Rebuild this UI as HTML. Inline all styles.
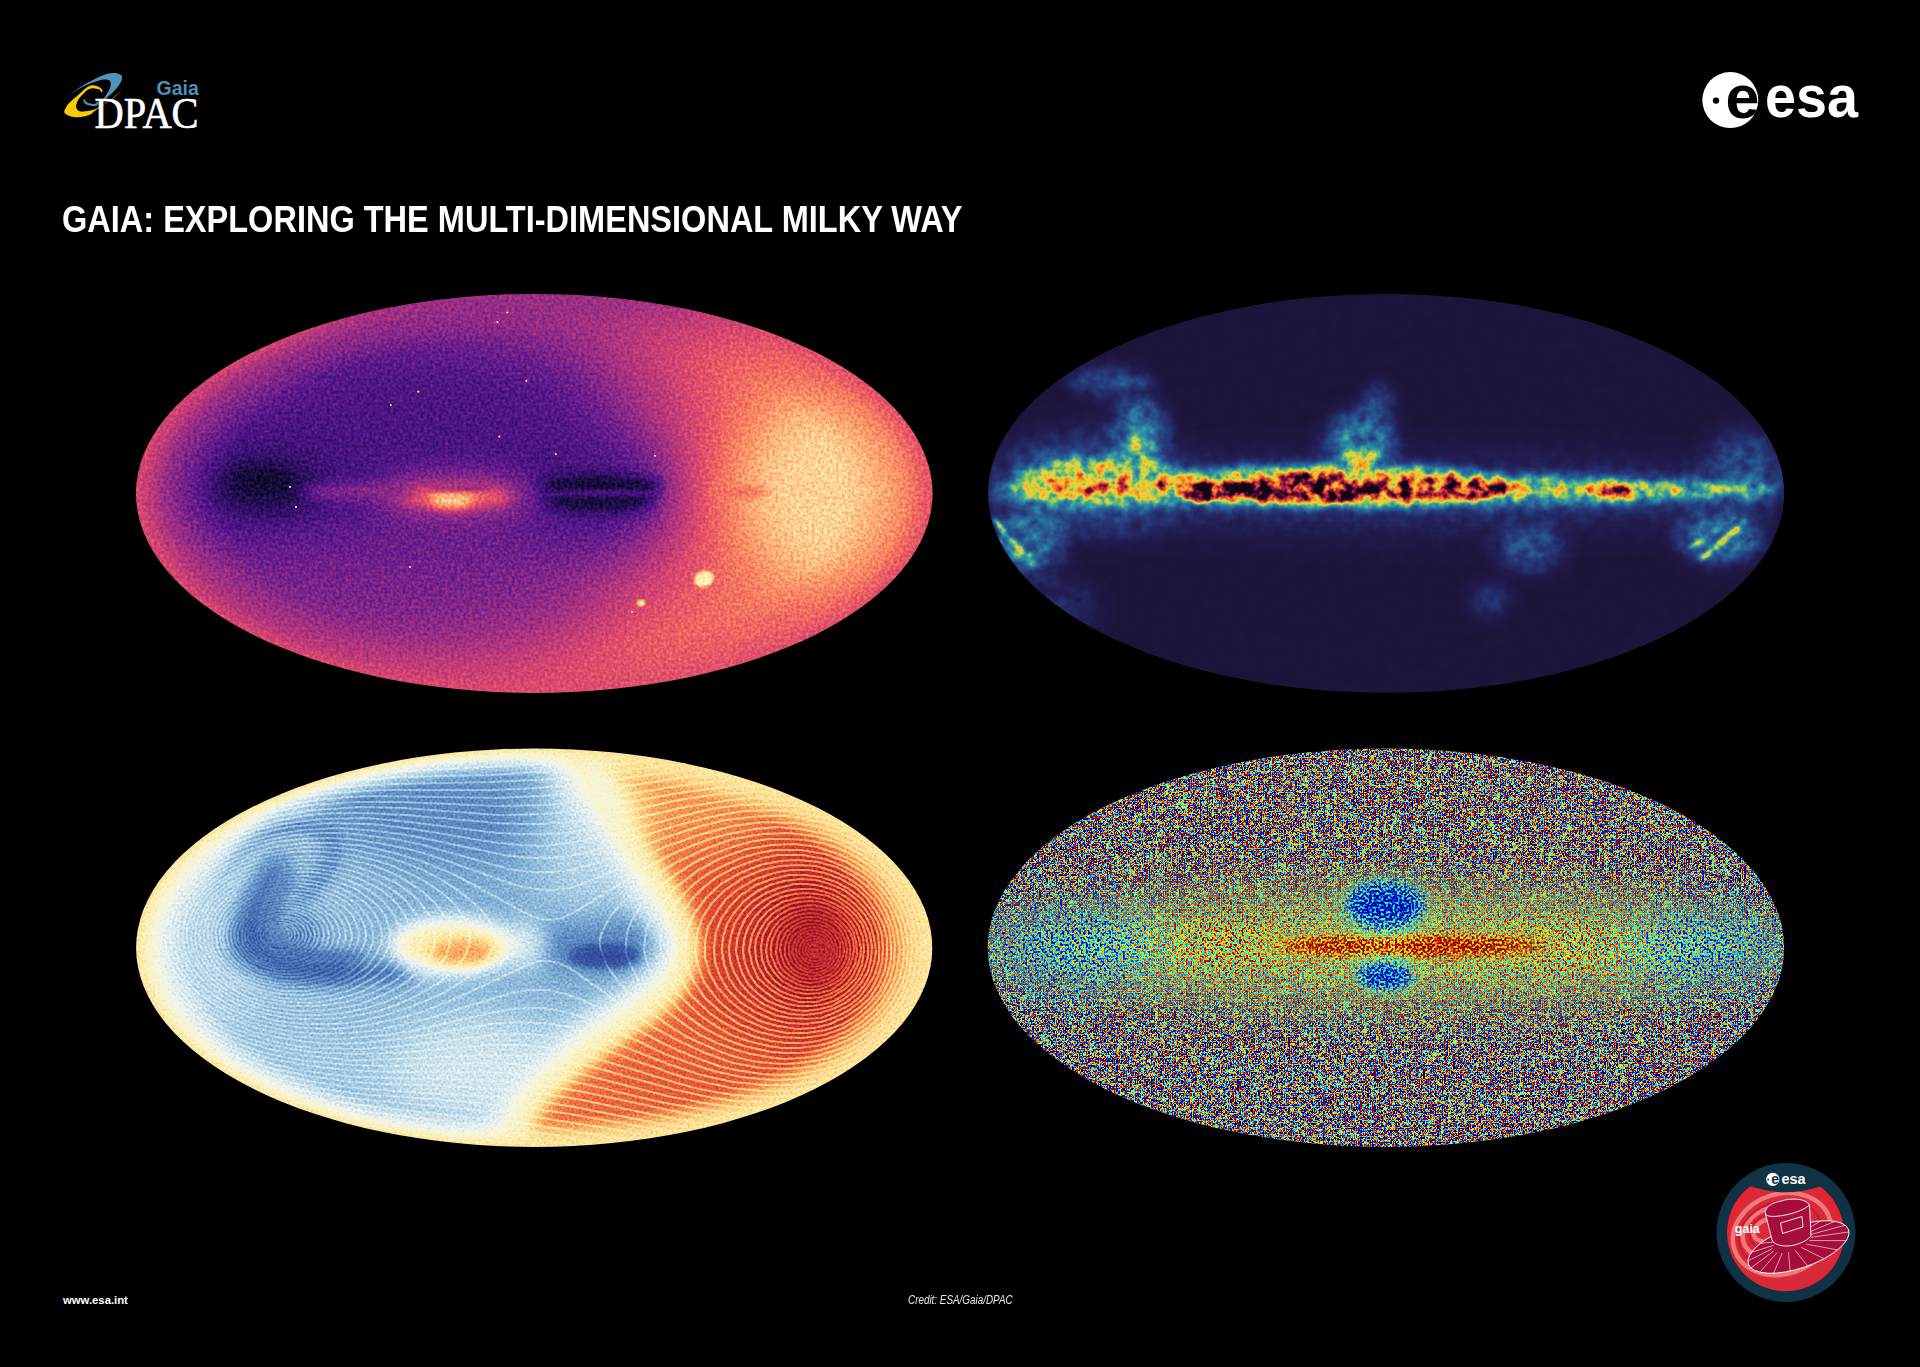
<!DOCTYPE html>
<html><head><meta charset="utf-8"><title>Gaia: Exploring the multi-dimensional Milky Way</title>
<style>
html,body{margin:0;padding:0;background:#000;width:1920px;height:1367px;overflow:hidden}
body{position:relative;font-family:"Liberation Sans",sans-serif}
.maps{position:absolute;left:0;top:0}
.logos{position:absolute;left:0;top:0}
.title{position:absolute;left:62px;top:198.7px;color:#fff;font:bold 36.5px "Liberation Sans",sans-serif;white-space:nowrap;transform-origin:0 0;transform:scaleX(0.891);letter-spacing:0}
.www{position:absolute;left:63px;top:1293.5px;color:#fff;font:bold 11.3px "Liberation Sans",sans-serif;white-space:nowrap}
.credit{position:absolute;left:908px;top:1293px;color:#e6e6e6;font:italic 12.5px "Liberation Sans",sans-serif;white-space:nowrap;transform-origin:0 0;transform:scaleX(0.79)}
</style></head><body>
<svg class="maps" width="1920" height="1367" viewBox="0 0 1920 1367"><defs><radialGradient id="rimTL" cx="0.5" cy="0.5" r="0.5"><stop offset="0" stop-color="#999999" stop-opacity="0"/><stop offset="0.78" stop-color="#8c8c8c" stop-opacity="0"/><stop offset="0.93" stop-color="#8f8f8f" stop-opacity="0.4"/><stop offset="1" stop-color="#999999" stop-opacity="0.92"/></radialGradient><radialGradient id="rimBL" cx="0.5" cy="0.5" r="0.5"><stop offset="0" stop-color="#8c8c8c" stop-opacity="0"/><stop offset="0.86" stop-color="#808080" stop-opacity="0"/><stop offset="0.95" stop-color="#8a8a8a" stop-opacity="0.7"/><stop offset="1" stop-color="#949494" stop-opacity="1"/></radialGradient><mask id="mBRm" maskUnits="userSpaceOnUse" x="980" y="740" width="820" height="420"><ellipse cx="1386" cy="947" rx="420" ry="52" fill="#fff" filter="url(#b25)"/></mask><mask id="mBRc" maskUnits="userSpaceOnUse" x="980" y="740" width="820" height="420"><ellipse cx="1405" cy="946" rx="150" ry="14" fill="#fff" filter="url(#b8)"/><ellipse cx="1385" cy="905" rx="44" ry="26" fill="#fff" filter="url(#b10)"/><ellipse cx="1385" cy="977" rx="32" ry="15" fill="#fff" filter="url(#b8)"/></mask><filter id="fTL" x="0" y="0" width="1" height="1" color-interpolation-filters="sRGB"><feTurbulence type="fractalNoise" baseFrequency="0.33" numOctaves="2" seed="3" result="n0"/><feColorMatrix in="n0" type="matrix" values="1 0 0 0 0  1 0 0 0 0  1 0 0 0 0  0 0 0 0 1" result="n"/><feComposite in="SourceGraphic" in2="n" operator="arithmetic" k1="0" k2="1" k3="0.3" k4="-0.15" result="f"/><feComponentTransfer in="f"><feFuncR type="table" tableValues="0.000 0.012 0.025 0.037 0.050 0.062 0.075 0.093 0.114 0.136 0.157 0.178 0.199 0.221 0.243 0.265 0.287 0.310 0.333 0.357 0.381 0.407 0.441 0.475 0.508 0.542 0.571 0.599 0.627 0.655 0.683 0.709 0.734 0.759 0.784 0.807 0.829 0.850 0.871 0.893 0.906 0.918 0.931 0.943 0.956 0.961 0.966 0.970 0.975 0.980 0.982 0.985 0.987 0.989 0.992 0.992 0.992 0.992 0.992 0.992 0.991 0.990 0.989 0.988"/><feFuncG type="table" tableValues="0.000 0.008 0.016 0.024 0.032 0.040 0.049 0.052 0.054 0.056 0.058 0.060 0.062 0.065 0.070 0.076 0.081 0.086 0.093 0.101 0.108 0.116 0.128 0.139 0.151 0.162 0.172 0.180 0.189 0.197 0.206 0.215 0.225 0.235 0.245 0.256 0.270 0.284 0.299 0.313 0.337 0.362 0.387 0.412 0.437 0.463 0.489 0.516 0.542 0.569 0.598 0.628 0.657 0.687 0.716 0.745 0.773 0.802 0.830 0.858 0.885 0.911 0.938 0.965"/><feFuncB type="table" tableValues="0.016 0.048 0.080 0.113 0.145 0.178 0.210 0.244 0.279 0.314 0.349 0.383 0.418 0.447 0.467 0.486 0.506 0.525 0.534 0.542 0.550 0.556 0.550 0.545 0.540 0.534 0.527 0.519 0.512 0.504 0.496 0.487 0.478 0.470 0.461 0.452 0.443 0.434 0.425 0.416 0.407 0.398 0.388 0.379 0.370 0.374 0.380 0.387 0.393 0.399 0.416 0.435 0.453 0.472 0.491 0.513 0.536 0.559 0.582 0.609 0.641 0.673 0.705 0.737"/></feComponentTransfer></filter><filter id="fTR" x="0" y="0" width="1" height="1" color-interpolation-filters="sRGB"><feTurbulence type="fractalNoise" baseFrequency="0.085" numOctaves="3" seed="5" result="n0"/><feColorMatrix in="n0" type="matrix" values="1 0 0 0 0  1 0 0 0 0  1 0 0 0 0  0 0 0 0 1" result="n"/><feComposite in="SourceGraphic" in2="n" operator="arithmetic" k1="1.0" k2="0.5" k3="0" k4="0" result="f"/><feComponentTransfer in="f"><feFuncR type="table" tableValues="0.106 0.110 0.113 0.117 0.120 0.124 0.128 0.131 0.134 0.136 0.138 0.140 0.142 0.144 0.146 0.148 0.149 0.151 0.153 0.155 0.157 0.159 0.161 0.163 0.165 0.168 0.171 0.174 0.177 0.180 0.184 0.230 0.290 0.350 0.410 0.469 0.547 0.631 0.715 0.799 0.883 0.918 0.929 0.941 0.953 0.964 0.961 0.949 0.938 0.926 0.914 0.880 0.830 0.780 0.731 0.673 0.584 0.495 0.406 0.327 0.265 0.203 0.141 0.078"/><feFuncG type="table" tableValues="0.071 0.076 0.081 0.086 0.091 0.097 0.102 0.107 0.116 0.130 0.145 0.159 0.174 0.188 0.202 0.217 0.233 0.256 0.279 0.302 0.325 0.348 0.371 0.394 0.417 0.447 0.477 0.507 0.537 0.567 0.597 0.628 0.659 0.690 0.721 0.752 0.773 0.790 0.807 0.824 0.842 0.822 0.784 0.747 0.710 0.672 0.620 0.559 0.499 0.438 0.377 0.322 0.270 0.219 0.167 0.122 0.101 0.080 0.059 0.044 0.037 0.030 0.023 0.016"/><feFuncB type="table" tableValues="0.196 0.212 0.227 0.243 0.258 0.274 0.289 0.305 0.323 0.343 0.363 0.383 0.403 0.423 0.443 0.463 0.483 0.499 0.515 0.531 0.548 0.564 0.580 0.596 0.612 0.618 0.625 0.631 0.637 0.643 0.649 0.613 0.563 0.514 0.464 0.414 0.375 0.341 0.307 0.273 0.238 0.219 0.207 0.194 0.182 0.169 0.164 0.162 0.161 0.159 0.157 0.170 0.191 0.212 0.234 0.250 0.244 0.237 0.231 0.214 0.180 0.146 0.112 0.078"/></feComponentTransfer></filter><filter id="fBL" x="0" y="0" width="1" height="1" color-interpolation-filters="sRGB"><feTurbulence type="fractalNoise" baseFrequency="0.43" numOctaves="1" seed="7" result="n0"/><feColorMatrix in="n0" type="matrix" values="1 0 0 0 0  1 0 0 0 0  1 0 0 0 0  0 0 0 0 1" result="n"/><feComposite in="SourceGraphic" in2="n" operator="arithmetic" k1="0" k2="1" k3="0.22" k4="-0.11" result="f"/><feComponentTransfer in="f"><feFuncR type="table" tableValues="0.165 0.175 0.185 0.195 0.205 0.215 0.224 0.241 0.261 0.281 0.301 0.321 0.341 0.365 0.395 0.425 0.455 0.484 0.514 0.545 0.584 0.622 0.661 0.699 0.738 0.777 0.814 0.852 0.889 0.926 0.953 0.962 0.971 0.981 0.985 0.987 0.989 0.991 0.992 0.990 0.989 0.987 0.986 0.983 0.976 0.969 0.962 0.955 0.947 0.932 0.917 0.902 0.886 0.871 0.850 0.822 0.794 0.766 0.738 0.705 0.664 0.623 0.582 0.541"/><feFuncG type="table" tableValues="0.227 0.247 0.267 0.287 0.307 0.327 0.347 0.373 0.402 0.430 0.459 0.488 0.516 0.545 0.575 0.605 0.635 0.665 0.695 0.724 0.750 0.776 0.803 0.829 0.855 0.881 0.901 0.918 0.936 0.954 0.964 0.962 0.960 0.958 0.946 0.928 0.910 0.893 0.871 0.834 0.796 0.759 0.722 0.683 0.641 0.599 0.557 0.515 0.474 0.438 0.402 0.366 0.330 0.294 0.263 0.236 0.210 0.183 0.157 0.134 0.116 0.098 0.081 0.063"/><feFuncB type="table" tableValues="0.549 0.566 0.584 0.601 0.619 0.636 0.654 0.669 0.684 0.699 0.714 0.729 0.744 0.759 0.776 0.792 0.808 0.824 0.840 0.856 0.869 0.881 0.893 0.906 0.918 0.931 0.936 0.940 0.943 0.947 0.929 0.877 0.825 0.773 0.727 0.684 0.642 0.599 0.558 0.527 0.496 0.465 0.434 0.404 0.379 0.354 0.329 0.304 0.281 0.267 0.253 0.239 0.225 0.212 0.203 0.199 0.196 0.193 0.190 0.182 0.168 0.154 0.140 0.125"/></feComponentTransfer></filter><filter id="fBR" x="0" y="0" width="1" height="1" color-interpolation-filters="sRGB"><feTurbulence type="fractalNoise" baseFrequency="0.43" numOctaves="1" seed="9" result="n0"/><feColorMatrix in="n0" type="matrix" values="1 0 0 0 0  1 0 0 0 0  1 0 0 0 0  0 0 0 0 1" result="n"/><feComponentTransfer in="n" result="n"><feFuncR type="table" tableValues="0.000 0.000 0.000 0.000 0.000 0.000 0.000 0.001 0.004 0.016 0.040 0.076 0.124 0.186 0.268 0.378 0.490 0.616 0.729 0.814 0.877 0.927 0.964 0.987 0.997 0.999 1.000 1.000 1.000 1.000 1.000 1.000 1.000"/><feFuncG type="table" tableValues="0.000 0.000 0.000 0.000 0.000 0.000 0.000 0.001 0.004 0.016 0.040 0.076 0.124 0.186 0.268 0.378 0.490 0.616 0.729 0.814 0.877 0.927 0.964 0.987 0.997 0.999 1.000 1.000 1.000 1.000 1.000 1.000 1.000"/><feFuncB type="table" tableValues="0.000 0.000 0.000 0.000 0.000 0.000 0.000 0.001 0.004 0.016 0.040 0.076 0.124 0.186 0.268 0.378 0.490 0.616 0.729 0.814 0.877 0.927 0.964 0.987 0.997 0.999 1.000 1.000 1.000 1.000 1.000 1.000 1.000"/></feComponentTransfer><feComposite in="SourceGraphic" in2="n" operator="arithmetic" k1="0" k2="1" k3="1.25" k4="-0.625" result="f"/><feComponentTransfer in="f"><feFuncR type="table" tableValues="0.000 0.000 0.000 0.000 0.000 0.000 0.000 0.000 0.000 0.000 0.000 0.000 0.000 0.000 0.000 0.000 0.000 0.000 0.000 0.000 0.000 0.000 0.000 0.047 0.098 0.149 0.199 0.250 0.300 0.351 0.402 0.452 0.515 0.566 0.617 0.667 0.718 0.769 0.819 0.870 0.920 0.971 1.000 1.000 1.000 1.000 1.000 1.000 1.000 1.000 1.000 1.000 1.000 1.000 1.000 1.000 0.999 0.928 0.857 0.785 0.714 0.643 0.571 0.500"/><feFuncG type="table" tableValues="0.000 0.000 0.000 0.000 0.000 0.000 0.000 0.000 0.002 0.065 0.127 0.190 0.253 0.316 0.378 0.441 0.520 0.582 0.645 0.708 0.771 0.833 0.896 0.959 1.000 1.000 1.000 1.000 1.000 1.000 1.000 1.000 1.000 1.000 1.000 1.000 1.000 1.000 1.000 1.000 1.000 0.959 0.901 0.843 0.785 0.727 0.669 0.611 0.538 0.480 0.422 0.364 0.306 0.248 0.190 0.131 0.073 0.015 0.000 0.000 0.000 0.000 0.000 0.000"/><feFuncB type="table" tableValues="0.500 0.571 0.643 0.714 0.785 0.857 0.928 0.999 1.000 1.000 1.000 1.000 1.000 1.000 1.000 1.000 1.000 1.000 1.000 1.000 1.000 1.000 0.971 0.920 0.870 0.819 0.769 0.718 0.667 0.617 0.566 0.515 0.452 0.402 0.351 0.300 0.250 0.199 0.149 0.098 0.047 0.000 0.000 0.000 0.000 0.000 0.000 0.000 0.000 0.000 0.000 0.000 0.000 0.000 0.000 0.000 0.000 0.000 0.000 0.000 0.000 0.000 0.000 0.000"/></feComponentTransfer></filter><filter id="fBRm" x="0" y="0" width="1" height="1" color-interpolation-filters="sRGB"><feTurbulence type="fractalNoise" baseFrequency="0.43" numOctaves="1" seed="10" result="n0"/><feColorMatrix in="n0" type="matrix" values="1 0 0 0 0  1 0 0 0 0  1 0 0 0 0  0 0 0 0 1" result="n"/><feComponentTransfer in="n" result="n"><feFuncR type="table" tableValues="0.000 0.000 0.000 0.000 0.000 0.000 0.000 0.001 0.004 0.016 0.040 0.076 0.124 0.186 0.268 0.378 0.490 0.616 0.729 0.814 0.877 0.927 0.964 0.987 0.997 0.999 1.000 1.000 1.000 1.000 1.000 1.000 1.000"/><feFuncG type="table" tableValues="0.000 0.000 0.000 0.000 0.000 0.000 0.000 0.001 0.004 0.016 0.040 0.076 0.124 0.186 0.268 0.378 0.490 0.616 0.729 0.814 0.877 0.927 0.964 0.987 0.997 0.999 1.000 1.000 1.000 1.000 1.000 1.000 1.000"/><feFuncB type="table" tableValues="0.000 0.000 0.000 0.000 0.000 0.000 0.000 0.001 0.004 0.016 0.040 0.076 0.124 0.186 0.268 0.378 0.490 0.616 0.729 0.814 0.877 0.927 0.964 0.987 0.997 0.999 1.000 1.000 1.000 1.000 1.000 1.000 1.000"/></feComponentTransfer><feComposite in="SourceGraphic" in2="n" operator="arithmetic" k1="0" k2="1" k3="0.75" k4="-0.375" result="f"/><feComponentTransfer in="f"><feFuncR type="table" tableValues="0.000 0.000 0.000 0.000 0.000 0.000 0.000 0.000 0.000 0.000 0.000 0.000 0.000 0.000 0.000 0.000 0.000 0.000 0.000 0.000 0.000 0.000 0.000 0.047 0.098 0.149 0.199 0.250 0.300 0.351 0.402 0.452 0.515 0.566 0.617 0.667 0.718 0.769 0.819 0.870 0.920 0.971 1.000 1.000 1.000 1.000 1.000 1.000 1.000 1.000 1.000 1.000 1.000 1.000 1.000 1.000 0.999 0.928 0.857 0.785 0.714 0.643 0.571 0.500"/><feFuncG type="table" tableValues="0.000 0.000 0.000 0.000 0.000 0.000 0.000 0.000 0.002 0.065 0.127 0.190 0.253 0.316 0.378 0.441 0.520 0.582 0.645 0.708 0.771 0.833 0.896 0.959 1.000 1.000 1.000 1.000 1.000 1.000 1.000 1.000 1.000 1.000 1.000 1.000 1.000 1.000 1.000 1.000 1.000 0.959 0.901 0.843 0.785 0.727 0.669 0.611 0.538 0.480 0.422 0.364 0.306 0.248 0.190 0.131 0.073 0.015 0.000 0.000 0.000 0.000 0.000 0.000"/><feFuncB type="table" tableValues="0.500 0.571 0.643 0.714 0.785 0.857 0.928 0.999 1.000 1.000 1.000 1.000 1.000 1.000 1.000 1.000 1.000 1.000 1.000 1.000 1.000 1.000 0.971 0.920 0.870 0.819 0.769 0.718 0.667 0.617 0.566 0.515 0.452 0.402 0.351 0.300 0.250 0.199 0.149 0.098 0.047 0.000 0.000 0.000 0.000 0.000 0.000 0.000 0.000 0.000 0.000 0.000 0.000 0.000 0.000 0.000 0.000 0.000 0.000 0.000 0.000 0.000 0.000 0.000"/></feComponentTransfer></filter><filter id="fBRc" x="0" y="0" width="1" height="1" color-interpolation-filters="sRGB"><feTurbulence type="fractalNoise" baseFrequency="0.43" numOctaves="1" seed="11" result="n0"/><feColorMatrix in="n0" type="matrix" values="1 0 0 0 0  1 0 0 0 0  1 0 0 0 0  0 0 0 0 1" result="n"/><feComponentTransfer in="n" result="n"><feFuncR type="table" tableValues="0.000 0.000 0.000 0.000 0.000 0.000 0.000 0.001 0.004 0.016 0.040 0.076 0.124 0.186 0.268 0.378 0.490 0.616 0.729 0.814 0.877 0.927 0.964 0.987 0.997 0.999 1.000 1.000 1.000 1.000 1.000 1.000 1.000"/><feFuncG type="table" tableValues="0.000 0.000 0.000 0.000 0.000 0.000 0.000 0.001 0.004 0.016 0.040 0.076 0.124 0.186 0.268 0.378 0.490 0.616 0.729 0.814 0.877 0.927 0.964 0.987 0.997 0.999 1.000 1.000 1.000 1.000 1.000 1.000 1.000"/><feFuncB type="table" tableValues="0.000 0.000 0.000 0.000 0.000 0.000 0.000 0.001 0.004 0.016 0.040 0.076 0.124 0.186 0.268 0.378 0.490 0.616 0.729 0.814 0.877 0.927 0.964 0.987 0.997 0.999 1.000 1.000 1.000 1.000 1.000 1.000 1.000"/></feComponentTransfer><feComposite in="SourceGraphic" in2="n" operator="arithmetic" k1="0" k2="1" k3="0.6" k4="-0.3" result="f"/><feComponentTransfer in="f"><feFuncR type="table" tableValues="0.000 0.000 0.000 0.000 0.000 0.000 0.000 0.000 0.000 0.000 0.000 0.000 0.000 0.000 0.000 0.000 0.000 0.000 0.000 0.000 0.000 0.000 0.000 0.047 0.098 0.149 0.199 0.250 0.300 0.351 0.402 0.452 0.515 0.566 0.617 0.667 0.718 0.769 0.819 0.870 0.920 0.971 1.000 1.000 1.000 1.000 1.000 1.000 1.000 1.000 1.000 1.000 1.000 1.000 1.000 1.000 0.999 0.928 0.857 0.785 0.714 0.643 0.571 0.500"/><feFuncG type="table" tableValues="0.000 0.000 0.000 0.000 0.000 0.000 0.000 0.000 0.002 0.065 0.127 0.190 0.253 0.316 0.378 0.441 0.520 0.582 0.645 0.708 0.771 0.833 0.896 0.959 1.000 1.000 1.000 1.000 1.000 1.000 1.000 1.000 1.000 1.000 1.000 1.000 1.000 1.000 1.000 1.000 1.000 0.959 0.901 0.843 0.785 0.727 0.669 0.611 0.538 0.480 0.422 0.364 0.306 0.248 0.190 0.131 0.073 0.015 0.000 0.000 0.000 0.000 0.000 0.000"/><feFuncB type="table" tableValues="0.500 0.571 0.643 0.714 0.785 0.857 0.928 0.999 1.000 1.000 1.000 1.000 1.000 1.000 1.000 1.000 1.000 1.000 1.000 1.000 1.000 1.000 0.971 0.920 0.870 0.819 0.769 0.718 0.667 0.617 0.566 0.515 0.452 0.402 0.351 0.300 0.250 0.199 0.149 0.098 0.047 0.000 0.000 0.000 0.000 0.000 0.000 0.000 0.000 0.000 0.000 0.000 0.000 0.000 0.000 0.000 0.000 0.000 0.000 0.000 0.000 0.000 0.000 0.000"/></feComponentTransfer></filter><clipPath id="cTL"><ellipse cx="534.25" cy="493.4" rx="398.3" ry="199.5"/></clipPath><clipPath id="cTR"><ellipse cx="1386.1" cy="493.4" rx="398.1" ry="199.4"/></clipPath><clipPath id="cBL"><ellipse cx="534.2" cy="947.7" rx="398.1" ry="199.2"/></clipPath><clipPath id="cBR"><ellipse cx="1385.9" cy="947.7" rx="398.2" ry="199.2"/></clipPath><filter id="b1" x="-100%" y="-100%" width="300%" height="300%"><feGaussianBlur stdDeviation="1"/></filter><filter id="b2" x="-100%" y="-100%" width="300%" height="300%"><feGaussianBlur stdDeviation="2"/></filter><filter id="b3" x="-100%" y="-100%" width="300%" height="300%"><feGaussianBlur stdDeviation="3"/></filter><filter id="b4" x="-100%" y="-100%" width="300%" height="300%"><feGaussianBlur stdDeviation="4"/></filter><filter id="b5" x="-100%" y="-100%" width="300%" height="300%"><feGaussianBlur stdDeviation="5"/></filter><filter id="b6" x="-100%" y="-100%" width="300%" height="300%"><feGaussianBlur stdDeviation="6"/></filter><filter id="b7" x="-100%" y="-100%" width="300%" height="300%"><feGaussianBlur stdDeviation="7"/></filter><filter id="b8" x="-100%" y="-100%" width="300%" height="300%"><feGaussianBlur stdDeviation="8"/></filter><filter id="b9" x="-100%" y="-100%" width="300%" height="300%"><feGaussianBlur stdDeviation="9"/></filter><filter id="b10" x="-100%" y="-100%" width="300%" height="300%"><feGaussianBlur stdDeviation="10"/></filter><filter id="b12" x="-100%" y="-100%" width="300%" height="300%"><feGaussianBlur stdDeviation="12"/></filter><filter id="b14" x="-100%" y="-100%" width="300%" height="300%"><feGaussianBlur stdDeviation="14"/></filter><filter id="b16" x="-100%" y="-100%" width="300%" height="300%"><feGaussianBlur stdDeviation="16"/></filter><filter id="b18" x="-100%" y="-100%" width="300%" height="300%"><feGaussianBlur stdDeviation="18"/></filter><filter id="b20" x="-100%" y="-100%" width="300%" height="300%"><feGaussianBlur stdDeviation="20"/></filter><filter id="b22" x="-100%" y="-100%" width="300%" height="300%"><feGaussianBlur stdDeviation="22"/></filter><filter id="b25" x="-100%" y="-100%" width="300%" height="300%"><feGaussianBlur stdDeviation="25"/></filter><filter id="b30" x="-100%" y="-100%" width="300%" height="300%"><feGaussianBlur stdDeviation="30"/></filter><filter id="b35" x="-100%" y="-100%" width="300%" height="300%"><feGaussianBlur stdDeviation="35"/></filter><filter id="b40" x="-100%" y="-100%" width="300%" height="300%"><feGaussianBlur stdDeviation="40"/></filter><filter id="b50" x="-100%" y="-100%" width="300%" height="300%"><feGaussianBlur stdDeviation="50"/></filter><filter id="b85" x="-100%" y="-100%" width="300%" height="300%"><feGaussianBlur stdDeviation="85"/></filter></defs><g clip-path="url(#cTL)"><g filter="url(#fTL)"><rect x="129.95" y="287.9" width="808.6" height="411.0" fill="none"/><rect x="130.95" y="288.9" width="806.6" height="409.0" fill="#b8b8b8"/><ellipse cx="395" cy="455" rx="285" ry="200" fill="#474747" filter="url(#b85)"/><ellipse cx="585" cy="494" rx="90" ry="55" fill="#383838" filter="url(#b35)"/><ellipse cx="268" cy="490" rx="110" ry="70" fill="#383838" filter="url(#b30)"/><ellipse cx="390" cy="580" rx="210" ry="55" fill="#5c5c5c" filter="url(#b40)" opacity="0.9"/><ellipse cx="450" cy="420" rx="150" ry="70" fill="#404040" filter="url(#b40)" opacity="0.8"/><ellipse cx="845" cy="490" rx="115" ry="115" fill="#d6d6d6" filter="url(#b40)"/><ellipse cx="840" cy="492" rx="85" ry="85" fill="#ebebeb" filter="url(#b25)"/><rect x="135.95" y="293.9" width="796.6" height="399.0" fill="url(#rimTL)"/><ellipse cx="480" cy="298" rx="220" ry="18" fill="#666666" filter="url(#b12)" opacity="0.7"/><ellipse cx="520" cy="305" rx="240" ry="35" fill="#666666" filter="url(#b25)" opacity="0.6"/><ellipse cx="268" cy="488" rx="55" ry="28" fill="#262626" filter="url(#b10)"/><ellipse cx="262" cy="482" rx="30" ry="14" fill="#141414" filter="url(#b6)"/><ellipse cx="600" cy="486" rx="62" ry="10" fill="#141414" filter="url(#b6)"/><ellipse cx="600" cy="502" rx="55" ry="9" fill="#171717" filter="url(#b6)"/><ellipse cx="600" cy="493" rx="60" ry="3" fill="#474747" filter="url(#b2)"/><ellipse cx="455" cy="496" rx="80" ry="22" fill="#7a7a7a" filter="url(#b14)"/><ellipse cx="455" cy="497" rx="55" ry="9" fill="#b2b2b2" filter="url(#b6)"/><ellipse cx="452" cy="500" rx="22" ry="8" fill="#e6e6e6" filter="url(#b4)"/><ellipse cx="460" cy="488" rx="32" ry="3" fill="#666666" filter="url(#b2)"/><ellipse cx="360" cy="492" rx="60" ry="8" fill="#666666" filter="url(#b6)"/><ellipse cx="800" cy="492" rx="90" ry="6" fill="#e6e6e6" filter="url(#b4)" opacity="0.6"/><ellipse cx="740" cy="492" rx="30" ry="5" fill="#a8a8a8" filter="url(#b4)"/><circle cx="507.5" cy="312.5" r="1.1" fill="#fff"/><circle cx="497.5" cy="322" r="1.1" fill="#fff"/><circle cx="526.3" cy="380.8" r="1.1" fill="#fff"/><circle cx="499.2" cy="436.7" r="1.1" fill="#fff"/><circle cx="655" cy="455.8" r="1.1" fill="#fff"/><circle cx="555.8" cy="454" r="1.1" fill="#fff"/><circle cx="418.3" cy="391.7" r="1.1" fill="#fff"/><circle cx="390.8" cy="405" r="1.1" fill="#fff"/><circle cx="290" cy="487" r="1.1" fill="#fff"/><circle cx="296" cy="507" r="1.1" fill="#fff"/><circle cx="632" cy="612" r="1.1" fill="#fff"/><circle cx="410" cy="567" r="1.1" fill="#fff"/><ellipse cx="704" cy="579" rx="10" ry="8" fill="#fcfcfc" filter="url(#b1)" transform="rotate(-20 704 579)"/><ellipse cx="641" cy="603" rx="4" ry="3.5" fill="#f7f7f7" filter="url(#b1)"/></g></g><g clip-path="url(#cTR)"><g filter="url(#fTR)"><rect x="981.9999999999999" y="288.0" width="808.2" height="410.8" fill="none"/><rect x="982.9999999999999" y="289.0" width="806.2" height="408.8" fill="#080808"/><ellipse cx="1386" cy="494" rx="410" ry="36" fill="#383838" filter="url(#b20)"/><ellipse cx="1090" cy="482" rx="100" ry="50" fill="#4c4c4c" filter="url(#b18)"/><ellipse cx="1110" cy="382" rx="45" ry="16" fill="#454545" filter="url(#b8)"/><ellipse cx="1140" cy="428" rx="28" ry="32" fill="#616161" filter="url(#b10)"/><ellipse cx="1360" cy="442" rx="36" ry="32" fill="#666666" filter="url(#b10)"/><ellipse cx="1378" cy="405" rx="16" ry="22" fill="#4c4c4c" filter="url(#b8)"/><ellipse cx="1030" cy="540" rx="35" ry="38" fill="#5c5c5c" filter="url(#b10)"/><ellipse cx="1720" cy="538" rx="45" ry="26" fill="#616161" filter="url(#b10)"/><ellipse cx="1530" cy="548" rx="35" ry="25" fill="#4c4c4c" filter="url(#b10)"/><ellipse cx="1490" cy="600" rx="22" ry="18" fill="#383838" filter="url(#b9)"/><ellipse cx="1745" cy="470" rx="40" ry="40" fill="#4c4c4c" filter="url(#b14)"/><ellipse cx="1060" cy="610" rx="40" ry="35" fill="#2b2b2b" filter="url(#b14)"/><ellipse cx="1100" cy="482" rx="85" ry="24" fill="#9e9e9e" filter="url(#b7)"/><ellipse cx="1386" cy="490" rx="395" ry="15" fill="#949494" filter="url(#b6)"/><ellipse cx="1330" cy="485" rx="175" ry="20" fill="#a3a3a3" filter="url(#b6)"/><ellipse cx="1140" cy="450" rx="18" ry="14" fill="#949494" filter="url(#b5)"/><ellipse cx="1360" cy="460" rx="20" ry="12" fill="#999999" filter="url(#b5)"/><ellipse cx="1090" cy="487" rx="60" ry="10" fill="#bababa" filter="url(#b5)"/><ellipse cx="1350" cy="488" rx="180" ry="12" fill="#c9c9c9" filter="url(#b4)"/><ellipse cx="1610" cy="492" rx="25" ry="9" fill="#bdbdbd" filter="url(#b4)"/><ellipse cx="1290" cy="491" rx="105" ry="9" fill="#f2f2f2" filter="url(#b3)"/><ellipse cx="1313" cy="479" rx="30" ry="7" fill="#f0f0f0" filter="url(#b3)"/><ellipse cx="1200" cy="493" rx="18" ry="9" fill="#f0f0f0" filter="url(#b2)"/><ellipse cx="1165" cy="486" rx="8" ry="6" fill="#e6e6e6" filter="url(#b2)"/><ellipse cx="1440" cy="490" rx="70" ry="8" fill="#e6e6e6" filter="url(#b3)"/><ellipse cx="1613" cy="492" rx="14" ry="6" fill="#dbdbdb" filter="url(#b2)"/><path d="M1700 560 C1715 548 1730 535 1745 522" fill="none" stroke="#b8b8b8" stroke-width="4" stroke-linecap="round" filter="url(#b2)"/><path d="M1690 548 C1705 538 1720 528 1735 518" fill="none" stroke="#9e9e9e" stroke-width="3" stroke-linecap="round" filter="url(#b2)"/><path d="M995 520 C1005 535 1015 548 1030 556" fill="none" stroke="#b8b8b8" stroke-width="4" stroke-linecap="round" filter="url(#b2)"/><path d="M1000 540 C1010 552 1022 560 1040 566" fill="none" stroke="#9e9e9e" stroke-width="3" stroke-linecap="round" filter="url(#b2)"/></g></g><g clip-path="url(#cBL)"><g filter="url(#fBL)"><rect x="130.10000000000002" y="742.5" width="808.2" height="410.4" fill="none"/><rect x="131.10000000000002" y="743.5" width="806.2" height="408.4" fill="#707070"/><path d="M120 740 L560 740 L590 845 L640 909 L660 951 L632 993 L564 1035 L500 1099 L470 1160 L120 1160 Z" fill="#4c4c4c" filter="url(#b22)"/><ellipse cx="440" cy="815" rx="120" ry="50" fill="#333333" filter="url(#b25)"/><path d="M215 900 C225 850 270 815 320 830 C350 840 330 880 300 900" fill="none" stroke="#242424" stroke-width="9" stroke-linecap="round" filter="url(#b5)"/><path d="M250 840 C280 800 330 790 370 800" fill="none" stroke="#292929" stroke-width="7" stroke-linecap="round" filter="url(#b5)"/><ellipse cx="200" cy="940" rx="50" ry="120" fill="#5c5c5c" filter="url(#b25)"/><ellipse cx="360" cy="1075" rx="150" ry="45" fill="#545454" filter="url(#b25)"/><ellipse cx="480" cy="1070" rx="90" ry="55" fill="#6b6b6b" filter="url(#b25)"/><ellipse cx="275" cy="935" rx="45" ry="32" fill="#1f1f1f" filter="url(#b12)"/><path d="M240 950 C270 975 330 975 400 972" fill="none" stroke="#1a1a1a" stroke-width="18" stroke-linecap="round" filter="url(#b8)"/><path d="M300 900 C320 870 340 850 330 820" fill="none" stroke="#2e2e2e" stroke-width="14" stroke-linecap="round" filter="url(#b8)"/><ellipse cx="605" cy="945" rx="75" ry="28" fill="#2e2e2e" filter="url(#b12)"/><ellipse cx="605" cy="956" rx="35" ry="9" fill="#0a0a0a" filter="url(#b5)"/><ellipse cx="525" cy="945" rx="22" ry="25" fill="#6b6b6b" filter="url(#b10)"/><ellipse cx="452" cy="946" rx="62" ry="28" fill="#8f8f8f" filter="url(#b10)"/><ellipse cx="462" cy="952" rx="32" ry="12" fill="#b2b2b2" filter="url(#b6)"/><path d="M580 740 L620 845 L675 909 L696 951 L667 993 L599 1035 L536 1099 L510 1160 L950 1160 L950 740 Z" fill="#c9c9c9" filter="url(#b16)"/><ellipse cx="810" cy="955" rx="110" ry="130" fill="#e6e6e6" filter="url(#b35)"/><ellipse cx="815" cy="945" rx="50" ry="70" fill="#ffffff" filter="url(#b20)"/><ellipse cx="700" cy="1090" rx="80" ry="40" fill="#d1d1d1" filter="url(#b25)"/><ellipse cx="680" cy="800" rx="90" ry="45" fill="#b8b8b8" filter="url(#b25)"/><ellipse cx="585" cy="835" rx="45" ry="80" fill="#616161" filter="url(#b25)"/><path d="M555 745 C580 830 670 890 671 951 C670 1000 580 1030 511 1099 L485 1150" fill="none" stroke="#707070" stroke-width="26" stroke-linecap="round" filter="url(#b12)"/><path d="M572 745 C597 830 687 890 688 951 C687 1000 597 1030 528 1099 L502 1150" fill="none" stroke="#8c8c8c" stroke-width="18" stroke-linecap="round" filter="url(#b9)"/><path d="M280 934l-1 1 1 1 1 -1 -1 -1 M814 949l0 2 2 0 0 -1 -2 -1 M280 932l-3 2 -1 1 1 2 4 1 3 -3 -1 -2 -3 -1 M813 947l-2 3 1 2 2 2 3 -1 1 -2 0 -3 -2 -2 -3 1 M279 931l-3 1 -2 2 0 2 1 2 5 1 5 -1 2 -3 -2 -3 -2 -1 -4 0 M813 944l-3 2 -2 4 1 2 2 3 3 1 4 -1 3 -3 0 -2 -1 -3 -2 -2 -5 -1 M276 930l-4 2 -1 3 1 3 2 2 5 1 4 0 4 -1 2 -2 0 -4 -2 -4 -6 -1 -5 1 M813 942l-4 1 -2 3 -1 2 0 4 1 3 3 2 3 1 4 0 3 -1 2 -3 1 -6 -1 -2 -2 -3 -3 -1 -4 0 M279 927l-5 1 -4 3 -1 4 1 4 4 3 6 1 5 0 5 -3 2 -4 0 -2 -1 -3 -6 -4 -6 0 M813 939l-5 1 -3 3 -2 4 0 5 2 4 2 3 4 2 6 0 4 -2 3 -3 2 -4 0 -4 -1 -4 -4 -3 -4 -2 -4 0 M274 926l-4 2 -3 3 -1 3 1 4 1 2 4 3 4 2 5 0 6 -1 5 -2 3 -4 0 -6 -3 -4 -5 -3 -7 0 -6 1 M811 936l-5 2 -4 4 -2 4 -1 5 2 5 3 4 5 3 5 1 6 -1 5 -4 3 -5 1 -6 -2 -5 -4 -4 -5 -2 -7 -1 M276 923l-8 4 -4 5 -1 4 1 3 2 3 4 3 10 2 9 -1 7 -4 2 -3 1 -4 -2 -5 -5 -5 -8 -2 -8 0 M809 934l-4 1 -4 3 -3 4 -2 5 0 5 1 4 3 4 3 4 4 2 6 1 5 -1 4 -1 7 -6 2 -4 1 -5 -3 -8 -5 -6 -7 -3 -8 1 M279 920l-6 2 -5 2 -4 3 -3 4 -1 4 1 4 3 4 4 3 5 3 6 1 6 0 6 -2 5 -2 3 -3 3 -4 1 -4 -2 -5 -5 -6 -8 -3 -9 -1 M807 931l-6 3 -5 5 -3 7 -1 6 3 7 4 6 7 4 7 1 9 -2 7 -5 5 -8 0 -8 -3 -8 -6 -6 -8 -3 -10 1 M273 919l-9 5 -4 3 -2 4 -1 4 1 4 2 4 4 3 9 5 12 1 11 -3 8 -6 2 -5 0 -6 -2 -5 -4 -3 -5 -4 -7 -2 -8 0 -7 1 M810 927l-9 3 -8 6 -4 8 0 10 3 8 6 6 9 4 10 1 8 -3 7 -6 5 -8 0 -9 -3 -8 -6 -8 -8 -3 -10 -1 M274 916l-6 2 -6 4 -4 4 -3 5 -1 5 2 6 4 4 5 4 7 3 8 1 8 0 7 -1 6 -3 5 -4 3 -6 2 -5 -2 -5 -2 -4 -8 -7 -12 -3 -13 0 M806 924l-10 4 -8 8 -3 10 0 10 5 10 4 4 5 3 11 3 11 -1 9 -5 7 -7 3 -9 0 -11 -5 -9 -8 -7 -10 -3 -11 0 M274 914l-6 2 -7 3 -5 4 -3 5 -2 6 1 5 2 5 4 4 4 4 7 3 7 1 8 1 8 -1 7 -2 6 -3 5 -4 4 -7 1 -6 -2 -7 -5 -5 -7 -5 -8 -3 -9 -1 -10 1 M807 920l-6 2 -6 3 -9 7 -3 6 -2 5 -1 5 1 7 4 11 4 4 5 4 5 3 7 2 12 0 11 -4 5 -4 4 -5 5 -10 1 -5 -1 -7 -4 -10 -9 -8 -10 -5 -13 -1 M276 911l-8 2 -7 3 -6 4 -4 6 -3 5 0 7 2 5 4 5 6 5 6 4 8 2 9 1 8 -1 8 -2 8 -3 5 -4 5 -7 2 -7 -1 -8 -4 -6 -7 -6 -10 -4 -10 -1 -11 0 M802 918l-9 4 -8 5 -6 8 -2 8 -1 9 2 10 5 8 7 6 9 5 10 2 9 -1 10 -3 8 -5 6 -7 4 -8 1 -9 -1 -8 -3 -7 -4 -7 -6 -5 -7 -3 -8 -3 -8 0 -8 1 M276 908l-8 2 -9 4 -6 4 -5 6 -3 7 0 7 2 6 4 6 6 5 8 4 8 2 10 1 9 0 9 -2 9 -4 7 -5 5 -7 2 -8 -1 -8 -5 -8 -8 -6 -10 -4 -12 -2 -12 0 M802 914l-7 2 -6 3 -6 4 -5 5 -3 6 -3 6 -1 7 0 7 2 6 3 7 3 5 5 5 13 7 6 2 8 1 9 -1 8 -3 7 -4 6 -5 5 -7 3 -7 1 -6 0 -8 -2 -8 -3 -7 -5 -6 -7 -6 -7 -3 -8 -2 -8 -1 -8 1 M274 906l-9 2 -9 5 -7 5 -5 6 -2 7 0 8 2 7 5 6 7 6 9 4 9 2 11 1 11 -1 10 -2 8 -4 7 -6 6 -8 2 -9 -2 -9 -6 -8 -9 -7 -12 -4 -12 -2 -14 1 M802 910l-12 4 -10 6 -7 8 -5 11 -2 12 2 11 6 10 8 9 11 6 12 3 12 0 12 -4 11 -6 7 -9 5 -11 2 -10 -1 -10 -3 -8 -5 -6 -7 -7 -8 -5 -9 -4 -10 -1 -9 1 M274 903l-10 3 -10 4 -8 6 -5 7 -3 8 0 8 3 8 5 7 8 6 10 4 10 3 11 1 12 -1 11 -3 10 -4 8 -6 6 -10 2 -9 -2 -9 -6 -10 -10 -7 -13 -5 -14 -2 -15 1 M802 906l-12 3 -11 6 -10 9 -6 11 -2 12 1 12 4 11 8 10 9 7 12 5 12 2 13 -1 11 -3 10 -7 8 -9 6 -10 2 -10 -1 -12 -3 -11 -6 -9 -10 -9 -11 -5 -12 -3 -12 1 M283 899l-15 2 -14 6 -10 7 -7 9 -3 11 2 10 6 10 10 8 12 5 15 4 14 0 15 -3 12 -5 11 -8 6 -9 3 -11 -2 -8 -3 -7 -6 -6 -7 -5 -8 -5 -10 -3 -11 -2 -10 0 M799 902l-9 2 -10 5 -8 5 -7 8 -5 8 -4 9 -1 9 1 11 3 9 6 10 7 7 8 6 10 4 11 3 10 0 10 -1 9 -3 10 -5 7 -6 6 -8 4 -8 3 -9 1 -10 -2 -9 -3 -9 -5 -8 -6 -7 -8 -6 -8 -4 -9 -3 -10 -1 -11 1 M279 897l-14 2 -12 5 -11 7 -6 8 -5 9 0 10 2 9 6 8 8 8 11 6 12 3 14 2 13 0 14 -3 13 -5 10 -7 5 -5 3 -6 4 -10 -1 -7 -1 -5 -6 -11 -12 -9 -14 -6 -16 -4 -17 1 M798 898l-16 4 -14 9 -10 11 -6 13 -3 15 3 14 6 14 12 11 13 8 16 5 17 0 16 -5 13 -8 11 -11 6 -14 2 -14 -1 -12 -4 -11 -6 -9 -9 -9 -11 -6 -11 -4 -12 -2 -12 1 M276 894l-17 4 -14 7 -11 10 -6 11 -1 5 0 7 1 6 3 6 8 10 11 8 15 6 18 3 17 0 16 -4 15 -6 11 -9 7 -11 2 -5 1 -7 -2 -9 -5 -10 -7 -7 -10 -7 -12 -5 -13 -3 -14 -1 -13 1 M794 894l-12 3 -11 5 -10 8 -8 9 -6 11 -3 10 -1 12 2 11 4 11 7 10 9 8 10 7 12 5 12 2 14 0 12 -2 11 -4 9 -6 8 -7 7 -9 5 -11 3 -11 0 -10 -2 -11 -4 -11 -6 -8 -8 -8 -10 -7 -10 -5 -11 -2 -11 -1 -12 1 M799 889l-13 2 -12 4 -11 6 -10 8 -8 10 -5 11 -3 10 -1 12 3 12 4 11 6 10 9 9 10 7 12 5 13 4 13 1 14 -2 12 -3 12 -7 9 -7 8 -9 7 -12 3 -12 1 -12 -2 -12 -5 -12 -7 -10 -9 -9 -11 -7 -12 -5 -13 -3 -14 0 M283 890l-13 2 -12 3 -11 5 -8 6 -7 7 -5 7 -3 8 -1 10 2 9 5 8 6 7 8 6 10 6 11 3 12 3 14 1 13 -1 14 -3 12 -5 11 -6 8 -7 5 -8 4 -9 1 -10 -3 -9 -4 -8 -8 -8 -9 -6 -12 -6 -13 -4 -14 -1 -13 0 M794 884l-15 4 -13 5 -13 8 -10 10 -8 12 -4 12 -2 12 1 13 4 12 7 12 10 11 12 9 13 6 14 4 15 1 15 -2 13 -4 12 -6 11 -8 8 -9 6 -11 4 -12 2 -12 -2 -13 -3 -12 -6 -11 -9 -10 -10 -8 -12 -7 -13 -4 -14 -2 -13 0 M277 887l-16 4 -15 6 -12 9 -9 10 -5 12 0 12 4 12 8 11 11 9 15 7 18 4 17 1 18 -2 17 -4 14 -7 12 -9 5 -7 4 -7 2 -6 1 -7 -1 -8 -3 -7 -4 -6 -5 -6 -7 -6 -8 -5 -19 -7 -20 -4 -22 1 M801 879l-17 2 -14 4 -14 7 -12 9 -10 12 -7 11 -4 14 -1 13 2 13 5 14 8 12 11 10 12 8 15 7 15 3 16 1 15 -1 13 -5 14 -7 11 -8 9 -12 7 -12 4 -14 0 -13 -1 -13 -5 -14 -8 -11 -9 -10 -12 -9 -14 -6 -14 -4 -15 -1 M283 883l-22 4 -9 4 -10 5 -8 5 -7 6 -5 7 -3 6 -3 8 0 8 1 8 2 7 4 7 6 6 6 6 8 6 19 7 22 4 22 0 21 -4 19 -8 8 -6 7 -6 6 -7 3 -6 3 -7 0 -8 -1 -11 -6 -10 -8 -9 -12 -9 -14 -6 -16 -5 -16 -2 -17 0 M789 875l-17 4 -16 6 -15 10 -11 11 -9 13 -5 13 -2 15 1 15 5 14 8 14 12 12 15 10 16 7 16 4 18 1 16 -2 15 -5 13 -7 12 -9 10 -11 7 -14 4 -13 1 -15 -1 -13 -4 -13 -8 -13 -9 -11 -12 -9 -13 -7 -15 -5 -16 -2 -16 0 M289 879l-23 3 -10 4 -11 4 -10 6 -7 6 -7 7 -5 7 -3 8 -1 8 0 10 2 8 5 8 5 6 7 7 8 6 10 5 11 4 23 5 24 0 12 -2 12 -3 20 -8 9 -6 8 -6 5 -7 5 -8 3 -8 1 -8 -2 -11 -5 -10 -9 -11 -12 -8 -13 -7 -17 -5 -17 -3 -18 -1 M791 870l-17 3 -18 6 -16 9 -14 11 -10 14 -8 14 -3 15 0 16 5 16 8 14 12 13 14 11 16 9 18 5 19 3 17 -1 16 -4 15 -7 14 -9 11 -10 9 -14 6 -14 2 -15 0 -16 -4 -15 -7 -13 -9 -13 -12 -11 -14 -8 -16 -6 -16 -3 -18 0 M280 877l-22 4 -19 8 -15 12 -6 6 -5 7 -3 6 -2 8 0 8 0 7 3 8 3 7 5 6 6 7 16 11 19 8 21 4 22 1 22 -3 21 -6 19 -10 13 -12 6 -8 4 -8 2 -8 0 -8 -2 -9 -3 -8 -6 -8 -7 -6 -9 -7 -9 -6 -11 -4 -12 -4 -12 -3 -13 -1 -14 0 -12 1 M780 866l-18 4 -19 8 -18 12 -13 13 -10 15 -5 16 -2 16 3 16 6 16 12 16 14 13 18 10 19 8 20 4 20 0 19 -3 17 -6 14 -9 12 -11 11 -13 7 -15 4 -16 0 -16 -2 -16 -6 -14 -9 -14 -13 -13 -13 -9 -16 -7 -16 -5 -18 -1 -18 1 M284 873l-24 4 -21 8 -16 12 -7 6 -5 7 -4 8 -2 8 -1 8 0 8 2 8 4 8 5 8 6 6 16 11 20 9 23 6 24 1 24 -3 23 -6 19 -10 9 -6 7 -7 7 -8 4 -8 2 -8 1 -9 -2 -10 -3 -8 -5 -7 -7 -8 -9 -7 -10 -7 -12 -5 -13 -5 -13 -3 -14 -2 -15 0 -13 1 M780 861l-20 4 -20 8 -19 11 -15 14 -12 16 -7 16 -2 16 1 17 7 17 12 18 16 14 18 12 20 8 21 5 22 1 22 -3 17 -6 16 -9 14 -12 11 -13 8 -16 4 -16 1 -17 -2 -16 -6 -16 -8 -15 -12 -13 -15 -11 -16 -8 -18 -5 -19 -2 -19 1 M287 869l-26 4 -12 4 -11 5 -11 7 -8 6 -7 7 -5 8 -4 8 -3 9 -1 9 1 8 3 10 5 8 6 8 6 6 9 7 9 5 22 9 25 5 26 1 26 -4 24 -7 11 -6 10 -6 9 -6 6 -7 6 -8 5 -9 2 -8 0 -10 -2 -9 -3 -8 -6 -9 -8 -8 -10 -8 -11 -6 -12 -6 -13 -4 -14 -3 -15 -2 -15 -1 -14 1 M779 855l-16 3 -16 5 -15 6 -15 8 -13 10 -11 11 -9 12 -6 12 -4 12 -1 12 1 12 3 12 6 12 7 12 10 10 12 11 14 9 14 7 15 6 16 4 16 2 16 0 15 -2 15 -4 14 -6 13 -8 12 -10 9 -10 8 -12 6 -13 3 -14 2 -14 -3 -20 -6 -19 -11 -17 -8 -8 -8 -8 -19 -11 -20 -8 -23 -4 -23 0 M288 865l-14 1 -13 4 -12 4 -12 5 -11 6 -10 8 -7 8 -6 8 -5 9 -2 9 -1 9 1 10 3 9 6 9 6 9 8 7 10 7 9 5 12 6 12 3 27 5 29 0 28 -4 26 -9 12 -6 11 -6 8 -7 8 -8 5 -8 4 -10 2 -9 0 -9 -3 -10 -5 -9 -7 -9 -8 -8 -11 -7 -12 -7 -14 -6 -13 -4 -15 -3 -15 -2 -16 -1 -15 1 M776 850l-17 3 -18 5 -16 7 -16 8 -14 10 -12 12 -10 12 -8 13 -4 12 -1 12 1 12 3 12 6 14 8 12 11 11 12 11 15 10 15 9 17 6 16 4 18 3 17 0 17 -2 16 -4 15 -6 14 -9 13 -10 10 -11 8 -13 7 -14 4 -15 1 -14 -1 -11 -2 -11 -3 -10 -4 -9 -5 -10 -7 -9 -7 -8 -9 -8 -19 -12 -22 -8 -24 -4 -25 0 M289 861l-15 2 -14 3 -14 5 -12 5 -12 7 -10 8 -7 8 -7 10 -4 9 -2 10 -1 11 2 9 4 11 6 9 7 9 9 8 11 7 11 6 13 5 14 4 15 2 14 2 30 -1 30 -5 14 -5 14 -6 12 -6 12 -8 9 -8 7 -8 6 -9 3 -9 1 -10 -1 -9 -3 -9 -6 -9 -8 -10 -9 -8 -12 -8 -12 -6 -15 -6 -15 -5 -16 -4 -16 -2 -16 0 -17 1 M772 845l-25 4 -26 9 -24 13 -21 16 -16 18 -6 9 -5 9 -3 8 -1 9 -1 10 2 9 3 9 5 11 7 11 9 10 9 9 12 10 13 9 13 7 13 6 14 5 27 6 13 1 14 0 13 -1 13 -3 20 -7 19 -10 16 -14 13 -15 9 -17 6 -20 1 -20 -3 -20 -7 -19 -10 -17 -14 -15 -17 -12 -19 -9 -21 -7 -22 -3 -23 1 M289 857l-17 2 -16 4 -17 7 -13 7 -12 8 -10 9 -8 11 -5 10 -4 12 0 12 2 12 5 11 7 10 10 11 11 8 13 8 15 6 15 5 16 3 18 2 17 0 19 -1 18 -3 17 -4 18 -6 15 -7 14 -8 12 -10 9 -9 8 -11 3 -9 2 -11 -1 -8 -3 -8 -4 -7 -6 -8 -8 -8 -10 -8 -22 -14 -25 -10 -27 -6 -29 -3 -27 1 M768 839l-18 3 -18 5 -19 7 -18 8 -17 11 -16 12 -14 13 -11 13 -6 11 -4 10 -1 11 0 11 4 10 6 12 9 14 11 11 13 12 16 12 15 10 17 8 16 6 18 5 17 3 16 2 17 -1 16 -2 16 -5 15 -5 13 -8 13 -9 11 -10 9 -12 9 -15 5 -14 3 -15 1 -16 -1 -16 -5 -16 -6 -14 -9 -14 -10 -12 -13 -10 -15 -10 -15 -7 -16 -5 -17 -3 -18 -1 -19 0 M311 851l-19 1 -18 3 -17 4 -16 6 -15 7 -13 9 -10 9 -9 11 -7 12 -3 11 -1 12 1 12 4 12 7 11 9 11 11 9 12 8 14 7 15 5 16 4 16 3 18 1 17 0 19 -1 17 -3 19 -4 18 -6 16 -7 15 -8 13 -8 11 -10 10 -10 5 -8 3 -10 1 -9 -2 -9 -5 -10 -6 -9 -9 -9 -10 -8 -12 -8 -15 -8 -16 -7 -17 -6 -17 -4 -16 -3 -18 -2 -16 -1 M763 834l-30 5 -28 10 -30 14 -28 19 -25 21 -9 10 -6 9 -4 8 -3 8 0 8 2 8 4 10 8 12 12 14 14 13 14 12 17 12 16 10 18 8 16 7 15 5 16 4 16 2 16 1 15 -1 15 -2 15 -3 22 -9 20 -12 17 -16 13 -17 10 -20 5 -21 1 -11 -1 -12 -4 -21 -8 -20 -13 -18 -15 -16 -19 -13 -21 -10 -23 -6 -24 -3 -26 1 M303 847l-20 3 -19 3 -19 6 -16 8 -15 8 -12 10 -10 12 -7 12 -5 11 -2 14 1 13 5 13 7 12 9 12 12 10 14 9 15 7 15 5 17 5 18 3 19 1 18 0 19 -1 19 -3 20 -5 19 -6 20 -8 18 -8 17 -10 14 -11 11 -10 6 -10 4 -9 0 -8 -2 -8 -5 -9 -8 -9 -12 -11 -12 -9 -16 -10 -15 -8 -17 -7 -17 -6 -18 -4 -18 -4 -17 -2 -18 -1 -17 0 M775 827l-20 2 -22 4 -20 5 -22 8 -21 9 -22 12 -73 45 -13 6 -12 2 -10 -1 -11 -4 -53 -29 -23 -12 -29 -12 -29 -9 -31 -7 -32 -3 -29 0 -29 4 -22 6 -22 9 -18 10 -15 13 -12 14 -8 16 -3 16 1 16 4 13 7 14 10 11 12 11 15 10 16 7 19 7 21 5 27 3 28 1 28 -3 30 -6 27 -7 28 -11 23 -10 57 -27 12 -4 9 0 11 2 12 6 82 58 26 14 26 12 28 10 29 5 27 1 27 -3 24 -7 21 -10 20 -14 16 -18 13 -19 8 -22 2 -10 1 -12 -1 -23 -6 -21 -11 -21 -15 -19 -17 -15 -22 -12 -23 -9 -25 -5 -26 -2 M763 822l-31 4 -33 9 -34 12 -75 34 -20 7 -19 2 -17 -1 -19 -4 -85 -30 -26 -7 -26 -5 -27 -4 -25 -1 -26 1 -24 3 -23 6 -22 9 -19 10 -14 11 -13 15 -9 14 -5 16 -1 16 2 15 6 14 9 14 12 12 15 10 17 10 19 8 22 6 24 4 24 2 26 -1 26 -2 24 -5 27 -6 88 -27 18 -3 18 0 19 4 19 7 19 10 58 32 20 9 20 8 20 7 19 4 21 3 18 1 15 -1 15 -2 15 -3 13 -4 14 -6 12 -7 12 -8 10 -8 9 -9 9 -11 7 -12 6 -12 4 -12 3 -13 1 -12 0 -13 -1 -14 -3 -12 -5 -11 -5 -12 -8 -12 -8 -10 -9 -10 -11 -8 -12 -9 -12 -6 -14 -6 -13 -4 -15 -3 -15 -2 -31 -1 M752 817l-26 3 -25 6 -31 10 -76 28 -23 6 -20 2 -20 0 -22 -3 -90 -25 -24 -5 -25 -3 -25 -3 -25 0 -24 2 -23 4 -24 6 -22 9 -19 11 -16 13 -13 15 -9 16 -4 15 -1 18 3 14 7 15 9 13 14 14 14 10 18 10 20 8 22 6 21 4 23 2 23 1 25 -2 22 -2 25 -4 93 -21 21 -2 21 0 20 4 21 7 21 8 59 28 37 13 18 5 19 4 18 2 17 1 17 -1 16 -2 15 -3 14 -4 14 -6 13 -7 13 -8 12 -10 10 -11 8 -11 8 -12 6 -13 4 -13 3 -13 1 -14 -1 -14 -2 -14 -3 -13 -6 -13 -6 -12 -8 -12 -10 -11 -10 -9 -12 -9 -12 -8 -13 -6 -15 -6 -15 -4 -15 -3 -16 -2 -16 0 -18 1 M888 851l-12 -9 -12 -8 -13 -7 -14 -5 -15 -5 -15 -3 -31 -4 -32 1 -34 6 -35 9 -81 25 -23 5 -21 2 -22 0 -24 -3 -86 -18 -40 -6 -39 -3 -38 2 -28 5 -26 7 -22 9 -21 12 -18 15 -13 16 -8 17 -4 17 -1 10 1 9 6 17 10 18 14 15 17 13 22 12 24 10 27 6 19 3 20 2 22 1 22 -1 43 -5 90 -15 24 -1 22 1 22 3 24 7 79 31 33 11 32 7 31 3 27 0 27 -4 25 -8 23 -11 M906 870l-5 -6 M921 1005l7 -15 4 -18 2 -17 0 -19 -3 -17 -6 -17 -8 -16 -10 -15 M845 819l-24 -8 -26 -5 -27 -2 -28 1 -24 3 -26 6 -78 21 -25 5 -24 4 -23 2 -20 -1 -22 -2 -85 -14 -41 -5 -44 -1 -20 2 -20 2 -27 6 -26 9 -23 11 -18 13 -17 16 -11 16 -7 17 -2 9 -1 10 2 17 6 17 9 16 15 16 18 14 21 12 25 9 25 7 20 4 21 2 43 1 42 -3 87 -11 23 -1 21 0 22 3 25 5 24 8 77 27 26 6 24 5 28 3 27 0 26 -4 25 -7 M820 806l-21 -5 -23 -2 -23 -1 -24 2 -44 7 -95 22 -24 4 -23 1 -22 0 -23 -1 -89 -11 -41 -4 -45 1 -20 2 -20 3 -27 6 -26 10 -23 12 -19 13 -15 16 -12 17 -7 17 -3 19 2 18 6 18 10 16 14 15 19 15 20 11 24 11 26 7 20 4 20 3 43 2 42 -1 92 -8 24 0 22 1 23 3 24 5 95 29 22 6 22 4 24 3 25 1 23 -1 22 -4 M798 795l-19 -2 -19 -1 -20 1 -22 1 -39 6 -89 19 -23 3 -23 2 -21 0 -25 -1 -93 -8 -41 -2 -23 0 -23 1 -21 3 -20 4 -27 7 -25 10 -23 12 -19 14 -16 17 -11 17 -7 18 -2 19 2 19 6 17 11 17 14 16 18 14 21 13 24 10 26 8 39 7 45 4 42 -1 93 -4 24 0 22 1 24 3 24 5 90 25 41 9 22 3 21 1 22 0 19 -2 M777 787l-33 -1 -36 3 -36 5 -80 15 -46 5 -48 1 -94 -7 -43 -1 -46 3 -20 3 -21 4 -28 8 -26 10 -22 13 -19 14 -16 17 -11 18 -7 18 -2 9 -1 11 2 19 7 18 10 18 14 15 18 15 21 13 24 11 27 9 20 4 21 4 44 4 42 1 94 -3 25 1 23 2 22 3 25 5 86 22 37 7 39 5 35 0 M778 1108l3 0 M759 780l-28 0 -33 3 -108 17 -43 5 -49 1 -97 -4 -43 0 -47 3 -22 4 -20 4 -28 9 -26 11 -23 13 -19 16 -16 17 -11 19 -6 18 -3 20 3 19 6 19 11 17 15 17 19 16 21 13 25 11 27 9 39 8 44 5 44 2 94 0 49 3 47 8 79 19 34 6 35 5 33 1 M738 774l-24 1 -27 2 -100 15 -47 4 -47 2 -113 -2 -33 1 -29 3 -37 6 -34 9 -31 13 -26 15 M189 843l-4 3 M133 925l0 6 M133 931l1 20 6 20 10 19 14 17 19 16 21 14 25 12 28 10 20 6 22 5 46 6 43 2 97 2 50 4 44 7 104 22 31 5 29 2 M717 768l-40 3 -92 13 -46 4 -47 2 -107 0 -54 3 -31 4 -28 6 -27 8 -25 10 M131 961l2 3 M133 965l7 17 10 16 14 14 17 15 18 12 21 11 25 10 25 8 38 8 42 6 41 2 93 4 48 4 45 7 98 20 27 4 25 2 M696 763l-37 3 -82 11 -41 3 -46 2 -98 2 -49 3 -25 3 -25 4 -23 5 -22 7 M140 990l10 14 13 13 14 13 17 11 20 11 20 9 22 8 24 6 35 7 40 6 37 3 90 5 49 4 43 7 89 17 44 6 M670 758l-93 11 -43 3 -44 3 -91 2 -42 3 -42 5 -37 7 M154 1016l13 11 13 10 16 10 16 9 19 9 19 7 42 11 32 6 37 5 120 9 47 5 42 6 84 15 35 5 M643 754l-115 11 -158 8 -33 4 -31 4 M175 1039l27 17 31 14 35 12 38 9 29 5 33 4 110 10 46 5 144 23 M610 750l-79 7 -134 8 -57 6 M197 1058l26 13 29 11 31 9 35 8 58 8 145 16 122 19 M572 746l-59 6 -127 8 M223 1076l24 9 26 8 28 8 31 6 52 7 132 15 103 16 M253 1092l44 13 52 10 44 6 116 15 82 12 M292 1109l35 8 42 7 184 25 M345 1126l4 0 M350 1127l50 8 104 14" fill="none" stroke="#787878" stroke-width="2.2" opacity="0.45"/><path d="M278 868 C254 898 240 934 260 952 C278 967 312 971 345 968" fill="none" stroke="#080808" stroke-width="22" stroke-linecap="round" filter="url(#b9)" opacity="0.75"/><path d="M292 880 C272 905 268 930 285 945 C300 955 330 958 360 955" fill="none" stroke="#1a1a1a" stroke-width="8" stroke-linecap="round" filter="url(#b5)" opacity="0.6"/><ellipse cx="605" cy="956" rx="30" ry="7" fill="#0a0a0a" filter="url(#b4)" opacity="0.8"/><ellipse cx="815" cy="945" rx="35" ry="45" fill="#ffffff" filter="url(#b12)" opacity="0.6"/><rect x="136.10000000000002" y="748.5" width="796.2" height="398.4" fill="url(#rimBL)"/></g></g><g clip-path="url(#cBR)"><g filter="url(#fBR)"><rect x="981.7" y="742.5" width="808.4" height="410.4" fill="none"/><rect x="982.7" y="743.5" width="806.4" height="408.4" fill="#8c8c8c"/><ellipse cx="1386" cy="1080" rx="330" ry="90" fill="#808080" filter="url(#b50)"/><ellipse cx="1040" cy="950" rx="90" ry="90" fill="#666666" filter="url(#b40)"/><ellipse cx="1730" cy="950" rx="90" ry="90" fill="#6b6b6b" filter="url(#b40)"/></g></g><g mask="url(#mBRm)"><g clip-path="url(#cBR)"><g filter="url(#fBRm)"><rect x="981.7" y="742.5" width="808.4" height="410.4" fill="none"/><rect x="982.7" y="743.5" width="806.4" height="408.4" fill="#999999"/><ellipse cx="1060" cy="950" rx="90" ry="60" fill="#5c5c5c" filter="url(#b30)"/><ellipse cx="1720" cy="950" rx="90" ry="60" fill="#616161" filter="url(#b30)"/><ellipse cx="1230" cy="940" rx="50" ry="30" fill="#adadad" filter="url(#b20)"/><ellipse cx="1560" cy="945" rx="60" ry="30" fill="#a8a8a8" filter="url(#b20)"/></g></g></g><g mask="url(#mBRc)"><g clip-path="url(#cBR)"><g filter="url(#fBRc)"><rect x="981.7" y="742.5" width="808.4" height="410.4" fill="none"/><rect x="982.7" y="743.5" width="806.4" height="408.4" fill="#a8a8a8"/><ellipse cx="1415" cy="946" rx="135" ry="12" fill="#f2f2f2" filter="url(#b5)"/><ellipse cx="1385" cy="905" rx="46" ry="28" fill="#1f1f1f" filter="url(#b10)"/><ellipse cx="1385" cy="976" rx="34" ry="17" fill="#1f1f1f" filter="url(#b8)"/></g></g></g></svg>
<svg class="logos" width="1920" height="1367" viewBox="0 0 1920 1367">
 <!-- Gaia DPAC logo -->
 <g id="dpac">
  <path d="M63.6 100.8 C63.5 100.8 68.1 96.6 70.5 94.5 C72.9 92.4 74.5 90.8 78.2 88.4 C81.9 86.0 88.5 82.2 92.8 80.0 C97.0 77.8 100.3 76.1 103.7 74.9 C107.1 73.8 110.2 73.2 112.9 73.1 C115.7 73.0 118.7 73.7 120.2 74.4 C121.7 75.1 122.0 76.0 122.0 77.5 C122.0 79.0 121.4 81.1 120.2 83.3 C119.0 85.5 116.8 88.3 114.7 90.6 C112.6 92.9 109.2 95.9 107.4 97.2 C105.6 98.5 104.0 98.8 103.7 98.6 C103.4 98.3 104.7 97.2 105.6 95.7 C106.5 94.2 108.3 91.8 109.2 89.9 C110.1 88.0 110.6 85.9 110.7 84.4 C110.8 82.9 110.5 81.9 110.0 81.1 C109.5 80.3 108.8 79.9 107.4 79.7 C106.1 79.5 104.3 79.2 101.9 79.7 C99.5 80.2 96.1 81.3 92.8 82.6 C89.5 83.9 85.6 85.4 81.9 87.3 C78.2 89.2 74.0 92.0 70.9 94.2 C67.9 96.5 63.7 100.8 63.6 100.8Z" fill="#4d93ba"/>
  <path d="M64.4 112.8 C63.6 111.3 65.2 109.1 66.0 107.5 C66.8 105.9 67.1 105.1 69.1 103.0 C71.1 100.9 75.5 97.4 78.2 95.0 C80.9 92.6 83.4 90.0 85.5 88.4 C87.6 86.8 89.2 85.9 91.0 85.5 C92.8 85.1 94.8 85.4 96.5 85.9 C98.2 86.4 100.2 87.5 101.2 88.4 C102.2 89.3 102.8 90.7 102.7 91.3 C102.6 91.9 101.2 92.3 100.8 92.1 C100.4 91.9 101.1 90.5 100.1 89.9 C99.1 89.3 96.4 88.5 94.6 88.4 C92.8 88.3 91.0 88.2 89.2 89.1 C87.4 89.9 85.5 91.8 83.7 93.5 C81.9 95.2 79.8 97.3 78.5 99.5 C77.2 101.7 76.0 104.7 76.1 106.6 C76.2 108.5 77.4 110.2 79.0 111.0 C80.6 111.8 82.7 111.7 85.6 111.3 C88.5 110.9 92.5 110.3 96.6 108.4 C100.7 106.5 105.5 103.3 110.0 100.0 C114.5 96.7 123.2 88.6 123.5 88.4 C123.8 88.2 116.5 95.5 112.0 99.0 C107.5 102.5 100.4 106.8 96.6 109.5 C92.8 112.2 92.3 113.7 89.3 115.0 C86.2 116.3 81.3 117.0 78.3 117.2 C75.2 117.5 73.3 117.2 71.0 116.5 C68.7 115.8 65.2 114.3 64.4 112.8Z" fill="#f9cc00"/>
  <path d="M84.1 99.5 C84.3 100.1 84.4 102.0 85.6 102.9 C86.8 103.8 89.3 104.5 91.1 104.7 C92.9 105.0 95.5 104.8 96.6 104.4 C97.7 104.0 97.5 102.6 97.7 102.2" fill="none" stroke="#4d93ba" stroke-width="2"/>
  <text x="156.5" y="95" font-family="Liberation Sans" font-weight="bold" font-size="19.5" fill="#4d8fb6">Gaia</text>
  <text x="94.5" y="128.4" font-family="Liberation Serif" font-size="44" fill="#fff" stroke="#fff" stroke-width="0.6" textLength="104" lengthAdjust="spacingAndGlyphs">DPAC</text>
 </g>
 <!-- esa logo -->
 <g id="esa">
  <circle cx="1730.3" cy="100.1" r="28" fill="#fff"/>
  <circle cx="1716" cy="100.6" r="3.2" fill="#000"/>
  <text x="1725.5" y="117.5" font-family="Liberation Sans" font-weight="bold" font-size="61" fill="#000">e</text>
  <text x="1765" y="117" font-family="Liberation Sans" font-weight="bold" font-size="59" fill="#fff" textLength="93" lengthAdjust="spacingAndGlyphs">esa</text>
 </g>
 <!-- gaia mission patch -->
 <g id="patch">
  <defs><clipPath id="shieldclip"><ellipse cx="1798.5" cy="1247" rx="53" ry="21" transform="rotate(-19 1798.5 1247)"/></clipPath><clipPath id="redclip"><path d="M1750 1186 Q1785.5 1199 1821.5 1186 A58.7 58.7 0 1 1 1750 1186 Z"/></clipPath></defs>
  <circle cx="1786" cy="1232.5" r="69.5" fill="#0f3344"/>
  <g clip-path="url(#redclip)">
   <circle cx="1785" cy="1234" r="59" fill="#e8222e"/>
   <circle cx="1785" cy="1236" r="55" fill="#d82a3a"/>
   <g fill="none" stroke="#f07a78" stroke-width="4.5">
    <ellipse cx="1782" cy="1234" rx="50" ry="40" transform="rotate(-18 1782 1234)"/>
    <ellipse cx="1776" cy="1232" rx="34" ry="25" transform="rotate(-18 1776 1232)"/>
    <ellipse cx="1770" cy="1230" rx="17" ry="11" transform="rotate(-18 1770 1230)"/>
   </g>
   <g fill="none" stroke="#c41e36" stroke-width="2.5">
    <ellipse cx="1780" cy="1234" rx="42" ry="32" transform="rotate(-18 1780 1234)"/>
    <ellipse cx="1774" cy="1231" rx="25" ry="18" transform="rotate(-18 1774 1231)"/>
   </g>
  </g>
  
  <!-- spacecraft -->
  <g stroke="#fff" stroke-width="0.9" fill="#a50d3b">
   <ellipse cx="1798.5" cy="1247" rx="53" ry="21" transform="rotate(-19 1798.5 1247)"/>
   <path clip-path="url(#shieldclip)" d="M1810.6 1237.4L1852.0 1231.5M1809.5 1240.6L1849.1 1240.6M1806.3 1244.1L1840.2 1250.4M1801.3 1247.4L1826.2 1259.8M1795.1 1250.2L1808.9 1267.7M1788.5 1252.1L1790.3 1273.1M1782.2 1253.0L1772.7 1275.3M1777.1 1252.6L1758.2 1274.2M1773.7 1251.1L1748.6 1269.7M1772.4 1248.6L1745.0 1262.5M1773.5 1245.4L1747.9 1253.4M1776.7 1241.9L1756.8 1243.6M1781.7 1238.6L1770.8 1234.2M1787.9 1235.8L1788.1 1226.3M1794.5 1233.9L1806.7 1220.9M1800.8 1233.0L1824.3 1218.7M1805.9 1233.4L1838.8 1219.8M1809.3 1234.9L1848.4 1224.3" fill="none" stroke-width="0.6"/>
   <path d="M1765.5 1214 L1772 1240 C1776 1249 1800 1248 1811 1236 L1809.5 1205 C1806 1198 1790 1198 1781 1201 C1771 1203 1764 1208 1765.5 1214 Z"/>
   <path d="M1765.5 1214 C1768 1220 1800 1214 1809.5 1205" fill="none"/>
   <path d="M1780.5 1223 L1802 1216.5 L1803 1227 L1782.5 1233.5 Z" fill="none"/>
   
  </g>
  <text x="1734.8" y="1232.5" font-family="Liberation Sans" font-weight="bold" font-size="12.5" fill="#fff">gaia</text>
  <circle cx="1772.8" cy="1179.3" r="6.6" fill="#fff"/>
  <circle cx="1768.2" cy="1179.5" r="0.9" fill="#0f3344"/>
  <text x="1771.3" y="1183.5" font-family="Liberation Sans" font-weight="bold" font-size="14" fill="#0f3344">e</text>
  <text x="1781.5" y="1183.5" font-family="Liberation Sans" font-weight="bold" font-size="14" fill="#fff" textLength="24" lengthAdjust="spacingAndGlyphs">esa</text>
 </g>
</svg>
<div class="title">GAIA: EXPLORING THE MULTI-DIMENSIONAL MILKY WAY</div>
<div class="www">www.esa.int</div>
<div class="credit">Credit: ESA/Gaia/DPAC</div>
</body></html>
